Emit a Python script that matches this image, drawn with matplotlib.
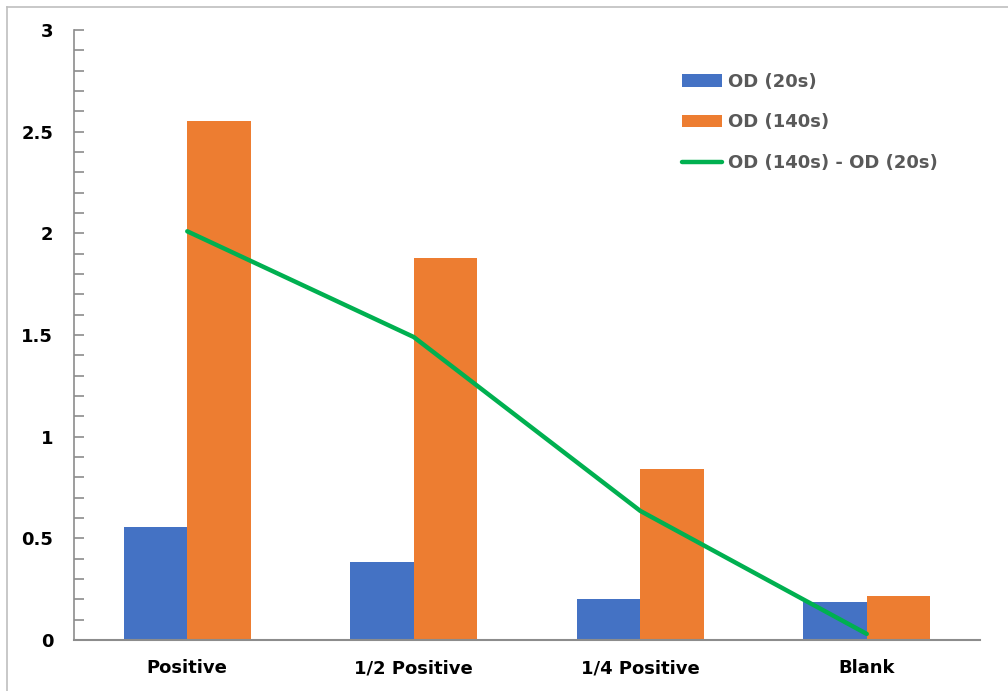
import matplotlib
matplotlib.use("Agg")
import matplotlib.pyplot as plt
from matplotlib.lines import Line2D
from matplotlib.ticker import MultipleLocator
import numpy as np

categories = ["Positive", "1/2 Positive", "1/4 Positive", "Blank"]
od_20s = [0.556, 0.384, 0.202, 0.187]
od_140s = [2.553, 1.879, 0.841, 0.216]
od_diff = [2.01, 1.49, 0.635, 0.03]
y_ticks = [0, 0.5, 1, 1.5, 2, 2.5, 3]
y_tick_labels = ["0", "0.5", "1", "1.5", "2", "2.5", "3"]

plt.rcParams['font.family'] = ['DejaVu Sans']

fig = plt.figure(figsize=(10.08, 6.91), dpi=100)
W, H = 1008, 691
ax = fig.add_axes([74 / W, (H - 640) / H, (980 - 74) / W, (640 - 30) / H])

x = np.arange(len(categories))
bw = 0.28
b1 = ax.bar(x - bw / 2, od_20s, bw, color="#4472C4", label="OD (20s)", zorder=2)
b2 = ax.bar(x + bw / 2, od_140s, bw, color="#ED7D31", label="OD (140s)", zorder=2)
l1, = ax.plot(x, od_diff, color="#00B050", lw=3.2, label="OD (140s) - OD (20s)", zorder=3,
              solid_capstyle="round")

ax.set_xlim(-0.5, 3.5)
ax.set_ylim(0, 3)
ax.set_yticks(y_ticks)
ax.set_yticklabels(y_tick_labels, fontsize=13, fontweight="bold", color="black")
ax.yaxis.set_minor_locator(MultipleLocator(0.1))
ax.tick_params(axis="y", which="both", direction="in", length=7, width=1.2,
               color="#8C8C8C", pad=15)
ax.set_xticks(x)
ax.set_xticklabels(categories, fontsize=13, fontweight="bold", color="black")
ax.tick_params(axis="x", length=0, pad=14)

for s in ["top", "right"]:
    ax.spines[s].set_visible(False)
ax.spines["left"].set_color("#8C8C8C")
ax.spines["left"].set_linewidth(1.2)
ax.spines["bottom"].set_color("#8C8C8C")
ax.spines["bottom"].set_linewidth(1.5)

leg = ax.legend([b1, b2, l1], ["OD (20s)", "OD (140s)", "OD (140s) - OD (20s)"],
                loc="upper left", bbox_to_anchor=(0.653, 0.956), frameon=False,
                prop={"weight": "bold", "size": 13},
                labelspacing=1.24, handlelength=2.2, handletextpad=0.35,
                handleheight=0.7)
for t in leg.get_texts():
    t.set_color("#595959")

# figure frame (top and left visible)
fig.add_artist(Line2D([7 / W, 1.0], [(H - 7) / H, (H - 7) / H], color="#BFBFBF", lw=1.2,
                      transform=fig.transFigure))
fig.add_artist(Line2D([7 / W, 7 / W], [0, (H - 7) / H], color="#BFBFBF", lw=1.2,
                      transform=fig.transFigure))

fig.savefig("out.png", dpi=100)
